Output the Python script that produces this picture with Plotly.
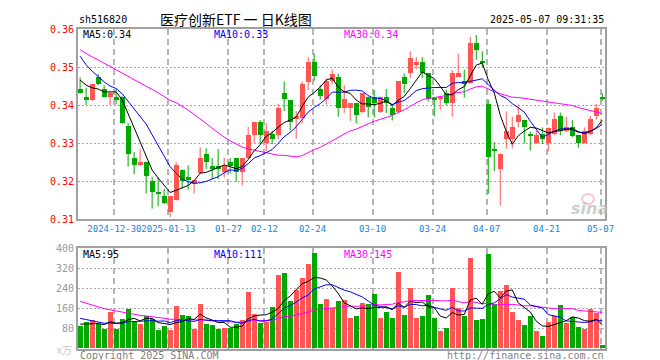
import plotly.graph_objects as go

# ---------------- data ----------------
open_ = [0.3443, 0.3422, 0.3413, 0.3475, 0.3443, 0.3422, 0.3422, 0.3422, 0.3344, 0.3261,
         0.3242, 0.3251, 0.3201, 0.3169, 0.3161, 0.3119, 0.3150, 0.3230, 0.3211, 0.3191,
         0.3222, 0.3271, 0.3240, 0.3240, 0.3223, 0.3251, 0.3261, 0.3223, 0.3261, 0.3322,
         0.3354, 0.3301, 0.3323, 0.3322, 0.3432, 0.3414, 0.3362, 0.3365, 0.3460, 0.3514,
         0.3443, 0.3416, 0.3463, 0.3475, 0.3393, 0.3393, 0.3404, 0.3382, 0.3422, 0.3422,
         0.3382, 0.3422, 0.3393, 0.3382, 0.3475, 0.3483, 0.3505, 0.3514, 0.3483, 0.3416,
         0.3415, 0.3432, 0.3404, 0.3475, 0.3463, 0.3458, 0.3564, 0.3513, 0.3403, 0.3282,
         0.3231, 0.3311, 0.3311, 0.3354, 0.3361, 0.3323, 0.3301, 0.3325, 0.3301, 0.3323,
         0.3371, 0.3332, 0.3342, 0.3321, 0.3301, 0.3323, 0.3371, 0.3421]
high = [0.3474, 0.3446, 0.3455, 0.3482, 0.3454, 0.3434, 0.3444, 0.3424, 0.3353, 0.3277,
        0.3285, 0.3252, 0.3212, 0.3211, 0.3180, 0.3162, 0.3251, 0.3231, 0.3242, 0.3203,
        0.3290, 0.3287, 0.3261, 0.3285, 0.3262, 0.3261, 0.3262, 0.3262, 0.3343, 0.3354,
        0.3361, 0.3353, 0.3333, 0.3404, 0.3463, 0.3414, 0.3385, 0.3463, 0.3526, 0.3536,
        0.3454, 0.3472, 0.3494, 0.3483, 0.3453, 0.3405, 0.3405, 0.3433, 0.3423, 0.3441,
        0.3423, 0.3443, 0.3404, 0.3463, 0.3484, 0.3542, 0.3527, 0.3527, 0.3484, 0.3422,
        0.3423, 0.3441, 0.3492, 0.3536, 0.3494, 0.3580, 0.3585, 0.3542, 0.3415, 0.3303,
        0.3273, 0.3384, 0.3370, 0.3402, 0.3362, 0.3331, 0.3333, 0.3342, 0.3342, 0.3381,
        0.3381, 0.3370, 0.3362, 0.3322, 0.3342, 0.3372, 0.3404, 0.3432]
low = [0.3430, 0.3401, 0.3411, 0.3452, 0.3420, 0.3401, 0.3402, 0.3351, 0.3239, 0.3219,
       0.3240, 0.3168, 0.3128, 0.3134, 0.3140, 0.3106, 0.3149, 0.3182, 0.3178, 0.3168,
       0.3221, 0.3232, 0.3206, 0.3206, 0.3210, 0.3221, 0.3199, 0.3189, 0.3259, 0.3300,
       0.3299, 0.3280, 0.3298, 0.3310, 0.3385, 0.3335, 0.3312, 0.3352, 0.3440, 0.3465,
       0.3415, 0.3402, 0.3455, 0.3370, 0.3380, 0.3359, 0.3352, 0.3380, 0.3368, 0.3368,
       0.3380, 0.3380, 0.3360, 0.3380, 0.3432, 0.3472, 0.3495, 0.3472, 0.3410, 0.3371,
       0.3389, 0.3400, 0.3370, 0.3474, 0.3420, 0.3457, 0.3520, 0.3500, 0.3167, 0.3227,
       0.3136, 0.3286, 0.3286, 0.3342, 0.3300, 0.3281, 0.3298, 0.3298, 0.3279, 0.3322,
       0.3321, 0.3330, 0.3316, 0.3288, 0.3300, 0.3322, 0.3362, 0.3412]
close = [0.3432, 0.3414, 0.3454, 0.3454, 0.3422, 0.3432, 0.3414, 0.3353, 0.3272, 0.3242,
         0.3251, 0.3213, 0.3170, 0.3168, 0.3141, 0.3161, 0.3241, 0.3201, 0.3202, 0.3202,
         0.3261, 0.3251, 0.3231, 0.3231, 0.3240, 0.3240, 0.3223, 0.3261, 0.3322, 0.3354,
         0.3322, 0.3332, 0.3311, 0.3393, 0.3415, 0.3354, 0.3371, 0.3454, 0.3514, 0.3476,
         0.3424, 0.3463, 0.3482, 0.3393, 0.3415, 0.3404, 0.3374, 0.3432, 0.3394, 0.3404,
         0.3422, 0.3404, 0.3374, 0.3463, 0.3454, 0.3525, 0.3514, 0.3483, 0.3416, 0.3414,
         0.3422, 0.3404, 0.3483, 0.3483, 0.3454, 0.3564, 0.3545, 0.3511, 0.3262, 0.3280,
         0.3272, 0.3332, 0.3342, 0.3373, 0.3342, 0.3321, 0.3322, 0.3311, 0.3340, 0.3362,
         0.3331, 0.3342, 0.3318, 0.3301, 0.3332, 0.3362, 0.3393, 0.3415]
volume = [88, 106, 112, 96, 78, 146, 78, 119, 158, 106,
          96, 129, 116, 73, 90, 73, 170, 135, 129, 78,
          178, 96, 93, 78, 81, 82, 98, 112, 224, 137,
          101, 104, 164, 294, 299, 189, 233, 282, 338, 379,
          178, 195, 162, 189, 194, 120, 131, 181, 176, 216,
          120, 146, 120, 306, 135, 240, 120, 131, 212, 120,
          69, 81, 240, 162, 131, 360, 115, 119, 375, 176,
          228, 251, 144, 115, 92, 131, 69, 49, 106, 131,
          172, 102, 125, 84, 79, 158, 143, 13]
# closes / volumes of the 29 sessions before the window (estimated from the MA lines)
prior_close = [0.372, 0.371, 0.369, 0.368, 0.367, 0.368,
               0.360, 0.356, 0.352, 0.349, 0.346, 0.344, 0.343, 0.344, 0.346, 0.342,
               0.348, 0.351, 0.355, 0.358,
               0.364, 0.362, 0.359, 0.357, 0.354,
               0.348, 0.349, 0.347, 0.346]
prior_volume = [350, 330, 300, 291, 285,
                262, 252, 243, 237, 233,
                194, 189, 184, 184, 182, 182,
                146, 136, 142, 141,
                155, 146, 141, 146, 136,
                97, 102, 101, 102]
tick_index = [6, 15, 25, 31, 39, 49, 59, 68, 78, 87]
tick_labels = ["2024-12-30", "2025-01-13", "01-27", "02-12", "02-24",
               "03-10", "03-24", "04-07", "04-21", "05-07"]
price_ticks = [0.31, 0.32, 0.33, 0.34, 0.35, 0.36]
vol_ticks = [80, 160, 240, 320, 400]

# ---------------- derived ----------------
n = len(close)
x = list(range(n))
RED, GREEN = "#ff5555", "#00a800"
MONO = "DejaVu Sans Mono"
W, H = 660, 360


def moving_avg(hist, vals, w):
    full = hist + vals
    off = len(hist)
    return [sum(full[off + i - w + 1: off + i + 1]) / w for i in range(len(vals))]


ma5 = moving_avg(prior_close, close, 5)
ma10 = moving_avg(prior_close, close, 10)
ma30 = moving_avg(prior_close, close, 30)
vma5 = moving_avg(prior_volume, volume, 5)
vma10 = moving_avg(prior_volume, volume, 10)
vma30 = moving_avg(prior_volume, volume, 30)

up = [c >= o for o, c in zip(open_, close)]
colors = [RED if u else GREEN for u in up]
body_base = [min(o, c) for o, c in zip(open_, close)]
body_h = [max(abs(c - o), 0.00028) for o, c in zip(open_, close)]

fig = go.Figure()

for flag, col in ((True, RED), (False, GREEN)):
    wx, wy = [], []
    for i in range(n):
        if up[i] == flag:
            wx += [i, i, None]
            wy += [low[i], high[i], None]
    fig.add_trace(go.Scatter(x=wx, y=wy, mode="lines", line=dict(color=col, width=1),
                             xaxis="x", yaxis="y", hoverinfo="skip"))

fig.add_trace(go.Bar(x=x, y=body_h, base=body_base, width=0.8,
                     marker=dict(color=colors, line=dict(width=0)),
                     xaxis="x", yaxis="y", hoverinfo="skip"))

for vals, col in ((ma30, "#ff00ff"), (ma10, "#0000ff"), (ma5, "#000000")):
    fig.add_trace(go.Scatter(x=x, y=vals, mode="lines", line=dict(color=col, width=1),
                             xaxis="x", yaxis="y", hoverinfo="skip"))

fig.add_trace(go.Bar(x=x, y=volume, width=0.8,
                     marker=dict(color=colors, line=dict(width=0)),
                     xaxis="x2", yaxis="y2", hoverinfo="skip"))
for vals, col in ((vma30, "#ff00ff"), (vma10, "#0000ff"), (vma5, "#000000")):
    fig.add_trace(go.Scatter(x=x, y=vals, mode="lines", line=dict(color=col, width=1),
                             xaxis="x2", yaxis="y2", hoverinfo="skip"))

grid_x = [t - 0.28 for t in tick_index]
xdom = [70 / W, 597 / W]
xcommon = dict(range=[-0.35, 87.45], showgrid=True, gridcolor="#b4b4b4", gridwidth=1.5,
               griddash="6px,4px", showline=True, linecolor="#a0a0a0", linewidth=2,
               mirror=True, zeroline=False, ticks="", tickvals=grid_x, tickangle=0,
               fixedrange=True, automargin=False)
ycommon = dict(showgrid=True, gridcolor="#a8a8a8", gridwidth=1, griddash="2px,2px",
               showline=True, linecolor="#a0a0a0", linewidth=2, mirror=True,
               zeroline=False, ticks="", fixedrange=True, automargin=False)

fig.update_layout(
    width=W, height=H,
    margin=dict(l=0, r=0, t=0, b=0, autoexpand=False),
    paper_bgcolor="white", plot_bgcolor="white",
    showlegend=False, barmode="overlay", bargap=0,
    xaxis=dict(**xcommon, domain=xdom, anchor="y", ticktext=tick_labels,
               tickfont=dict(family=MONO, size=9, color="#1384d8")),
    xaxis2=dict(**xcommon, domain=xdom, anchor="y2", matches="x",
                showticklabels=False),
    yaxis=dict(**ycommon, domain=[1 - 211.3 / H, 1 - 21.3 / H], range=[0.31, 0.36],
               tickvals=price_ticks, ticktext=["%.2f" % v for v in price_ticks],
               tickfont=dict(family=MONO, size=10, color="#ff0000")),
    yaxis2=dict(**ycommon, domain=[1 - 340.8 / H, 1 - 240.4 / H], range=[0, 400],
                tickvals=vol_ticks, ticktext=[str(v) for v in vol_ticks],
                tickfont=dict(family=MONO, size=10, color="#999999")),
)


def label(px, py, text, color="#000000", size=10, family=MONO, xanchor="left", **kw):
    fig.add_annotation(x=px / W, y=1 - py / H, xref="paper", yref="paper", text=text,
                       showarrow=False, xanchor=xanchor, yanchor="middle",
                       font=dict(family=family, size=size, color=color, **kw))


label(69, 12, "sh516820")
label(150, 11, "医疗创新ETF 一 日K线图", size=14, family="Noto Sans CJK SC")
label(598, 12, "2025-05-07 09:31:35", xanchor="right")

label(73, 27, "MA5:%.2f" % ma5[-1])
label(204, 27, "MA10:%.2f" % ma10[-1], color="#0000ff")
label(334, 27, "MA30:%.2f" % ma30[-1], color="#ff00ff")

label(73, 246, "MA5:%d" % round(vma5[-1]))
label(204, 246, "MA10:%d" % round(vma10[-1]), color="#0000ff")
label(334, 246, "MA30:%d" % round(vma30[-1]), color="#ff00ff")

label(66, 341, "x万", color="#c8c8c8", size=10, family="Noto Sans CJK SC", xanchor="right")
label(70, 347, "Copyright 2025 SINA.COM", color="#808080")
label(598, 347, "http://finance.sina.com.cn", color="#808080", xanchor="right")

# faint sina watermark (eye logo + word)
fig.add_shape(type="circle", xref="paper", yref="paper",
              x0=574 / W, x1=586 / W, y0=1 - 196 / H, y1=1 - 186 / H,
              line=dict(color="rgba(240,130,130,0.45)", width=2),
              fillcolor="rgba(255,255,255,0)", layer="below")
label(581, 200, "sina", color="rgba(190,190,190,0.75)", size=16, family="DejaVu Sans",
      xanchor="center", style="italic", weight="bold")

fig.write_html("out.html")
